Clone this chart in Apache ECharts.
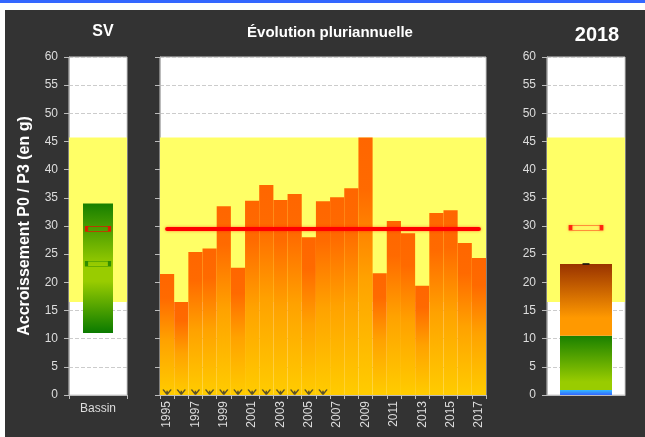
<!DOCTYPE html>
<html>
<head>
<meta charset="utf-8">
<script src="https://cdn.jsdelivr.net/npm/echarts@6/dist/echarts.min.js"></script>
<style>
  html, body { margin: 0; padding: 0; background: #fff; }
  #chart { width: 645px; height: 437px; }
</style>
</head>
<body>
<div id="chart"></div>
<script>
// données
const annees = ['1995', '1996', '1997', '1998', '1999', '2000', '2001', '2002', '2003', '2004', '2005', '2006',
  '2007', '2008', '2009', '2010', '2011', '2012', '2013', '2014', '2015', '2016', '2017']
const accroissement = [21.5, 16.5, 25.4, 26.0, 33.5, 22.6, 34.5, 37.3, 34.6, 35.7, 28.0, 34.4,
  35.1, 36.7, 45.7, 21.6, 30.9, 28.7, 19.4, 32.3, 32.8, 27.0, 24.3]
const anneesMarquees = ['1995', '1996', '1997', '1998', '1999', '2000', '2001', '2002', '2003', '2004', '2005', '2006']
const moyenne = 29.5
const zoneNormale = [16.5, 45.7] // bande jaune

// bassin SV
const bassinCat = ['Bassin']
const bassinMin = [11]
const bassinMax = [34]
const bassinRef = [29.5] // rouge
const bassinMed = [23.3] // vert

// 2018
const anCat = ['2018']
const part2018Bleu = [0.9]
const part2018Vert = [9.6]
const part2018Brun = [12.75]
const total2018 = [23.25]
const ref2018 = [29.7]

const police = 'Liberation Sans, Arial, Helvetica, sans-serif'
const grad = (stops) => new echarts.graphic.LinearGradient(0, 0, 0, 1,
  stops.map((c, i) => ({ offset: c[0], color: c[1] })))

const yAxe = (idx, labels) => ({
  gridIndex: idx,
  type: 'value',
  min: 0,
  max: 60,
  interval: 5,
  axisLine: { show: true, lineStyle: { color: '#bbb' } },
  axisTick: { show: true, length: 5, lineStyle: { color: '#bbb' } },
  axisLabel: { show: labels, color: '#ddd', fontSize: 12, fontFamily: police, margin: 11 },
  splitLine: { show: true, lineStyle: { color: '#ccc', type: [4, 2] } }
})

// bande jaune : série vide qui porte seulement la markArea
const bande = (idx) => ({
  type: 'line',
  xAxisIndex: idx,
  yAxisIndex: idx,
  data: [],
  z: 1,
  silent: true,
  markArea: {
    silent: true,
    itemStyle: { color: '#ffff66' },
    data: [[{ yAxis: zoneNormale[0] }, { yAxis: zoneNormale[1] }]]
  }
})

const chart = echarts.init(document.getElementById('chart'))
const option = {
  backgroundColor: '#fff',
  animation: false,
  graphic: [
    { type: 'rect', left: 0, top: 0, shape: { width: 645, height: 3 }, style: { fill: '#3366ff' }, z: -10 },
    { type: 'rect', left: 5, top: 10, shape: { width: 640, height: 427 }, style: { fill: '#333333' }, z: -10 }
  ],
  title: [
    { text: 'SV', left: 98, top: 19, textAlign: 'center', textStyle: { color: '#fff', fontSize: 16, fontWeight: 'bold', fontFamily: police } },
    { text: 'Évolution pluriannuelle', left: 325, top: 20, textAlign: 'center', textStyle: { color: '#fff', fontSize: 15, fontWeight: 'bold', fontFamily: police } },
    { text: '2018', left: 592, top: 20, textAlign: 'center', textStyle: { color: '#fff', fontSize: 20, fontWeight: 'bold', fontFamily: police } }
  ],
  grid: [
    { left: 69, top: 57, width: 58, height: 338, show: true, backgroundColor: '#fff', borderColor: '#ccc', borderWidth: 1 },
    { left: 160, top: 57, width: 326, height: 338, show: true, backgroundColor: '#fff', borderColor: '#ccc', borderWidth: 1 },
    { left: 547, top: 57, width: 78, height: 338, show: true, backgroundColor: '#fff', borderColor: '#ccc', borderWidth: 1 }
  ],
  xAxis: [
    {
      gridIndex: 0, type: 'category', data: bassinCat,
      axisLine: { lineStyle: { color: '#bbb' } },
      axisTick: { show: true, length: 4, lineStyle: { color: '#bbb' } },
      axisLabel: { color: '#ddd', fontSize: 12, fontFamily: police, margin: 8 }
    },
    {
      gridIndex: 1, type: 'category', data: annees,
      axisLine: { lineStyle: { color: '#bbb' } },
      axisTick: { show: true, length: 4, interval: 0, lineStyle: { color: '#bbb' } },
      axisLabel: { color: '#ddd', fontSize: 12, fontFamily: police, rotate: 90, interval: 1, margin: 6 }
    },
    {
      gridIndex: 2, type: 'category', data: anCat,
      axisLine: { lineStyle: { color: '#bbb' } },
      axisTick: { show: false },
      axisLabel: { show: false }
    }
  ],
  yAxis: [
    Object.assign(yAxe(0, true), {
      name: 'Accroissement P0 / P3 (en g)',
      nameLocation: 'middle',
      nameGap: 36,
      nameTextStyle: { color: '#fff', fontSize: 16, fontWeight: 'bold', fontFamily: police }
    }),
    yAxe(1, false),
    yAxe(2, true)
  ],
  series: [
    bande(0), bande(1), bande(2),
    // bassin : barre flottante min -> max
    {
      type: 'bar', xAxisIndex: 0, yAxisIndex: 0, stack: 'bassin', z: 3,
      data: bassinMin, barWidth: 30, itemStyle: { color: 'transparent' }, silent: true
    },
    {
      type: 'bar', xAxisIndex: 0, yAxisIndex: 0, stack: 'bassin', z: 3,
      data: bassinMax.map((v, i) => v - bassinMin[i]), barWidth: 30,
      itemStyle: { color: grad([[0, '#177f00'], [0.48, '#99cc00'], [0.6, '#99cc00'], [1, '#0a7a00']]) }
    },
    {
      type: 'scatter', xAxisIndex: 0, yAxisIndex: 0, z: 5, data: bassinRef,
      symbol: 'rect', symbolSize: [23, 5],
      itemStyle: { color: 'transparent', borderColor: '#ff0000', borderWidth: 1.5 }
    },
    {
      type: 'scatter', xAxisIndex: 0, yAxisIndex: 0, z: 5, data: bassinMed,
      symbol: 'rect', symbolSize: [23, 5],
      itemStyle: { color: 'transparent', borderColor: '#1a8000', borderWidth: 1.5 }
    },
    // évolution pluriannuelle
    {
      type: 'bar', xAxisIndex: 1, yAxisIndex: 1, z: 3,
      data: accroissement, barCategoryGap: 0,
      itemStyle: { color: grad([[0, '#ff6600'], [0.2, '#ff6a00'], [0.55, '#ffa200'], [1, '#ffcc00']]) },
      markLine: {
        silent: true, symbol: 'none', z: 6,
        label: { show: false },
        lineStyle: { color: '#ff0000', width: 4, type: 'solid', cap: 'round', shadowColor: 'rgba(255,0,0,0.5)', shadowBlur: 3 },
        data: [[{ coord: [annees[0], moyenne] }, { coord: [annees[annees.length - 1], moyenne] }]]
      }
    },
    {
      type: 'scatter', xAxisIndex: 1, yAxisIndex: 1, z: 5,
      data: anneesMarquees.map(a => [a, 0]),
      symbol: 'path://M0,8 L-4,0 M0,8 L4,0 M0,8 L0,2',
      symbolSize: [8, 5], symbolOffset: [0, -3],
      itemStyle: { color: 'none', borderColor: '#333', borderWidth: 1.2 }
    },
    // 2018
    {
      type: 'bar', xAxisIndex: 2, yAxisIndex: 2, stack: 'an', z: 3, barWidth: 52,
      data: part2018Bleu, itemStyle: { color: grad([[0, '#33bbff'], [1, '#3366ff']]) }
    },
    {
      type: 'bar', xAxisIndex: 2, yAxisIndex: 2, stack: 'an', z: 3, barWidth: 52,
      data: part2018Vert, itemStyle: { color: grad([[0, '#1a8000'], [0.85, '#99cc00'], [1, '#99cc00']]) }
    },
    {
      type: 'bar', xAxisIndex: 2, yAxisIndex: 2, stack: 'an', z: 3, barWidth: 52,
      data: part2018Brun, itemStyle: { color: grad([[0, '#993300'], [0.75, '#ff9900'], [1, '#ff9900']]) }
    },
    {
      type: 'scatter', xAxisIndex: 2, yAxisIndex: 2, z: 5, data: total2018,
      symbol: 'rect', symbolSize: [7, 2], itemStyle: { color: '#111' }
    },
    {
      type: 'scatter', xAxisIndex: 2, yAxisIndex: 2, z: 5, data: ref2018,
      symbol: 'rect', symbolSize: [31, 5],
      itemStyle: { color: 'transparent', borderColor: '#ff0000', borderWidth: 1.5, shadowColor: 'rgba(255,0,0,0.5)', shadowBlur: 3 }
    }
  ]
}
chart.setOption(option)
</script>
</body>
</html>
